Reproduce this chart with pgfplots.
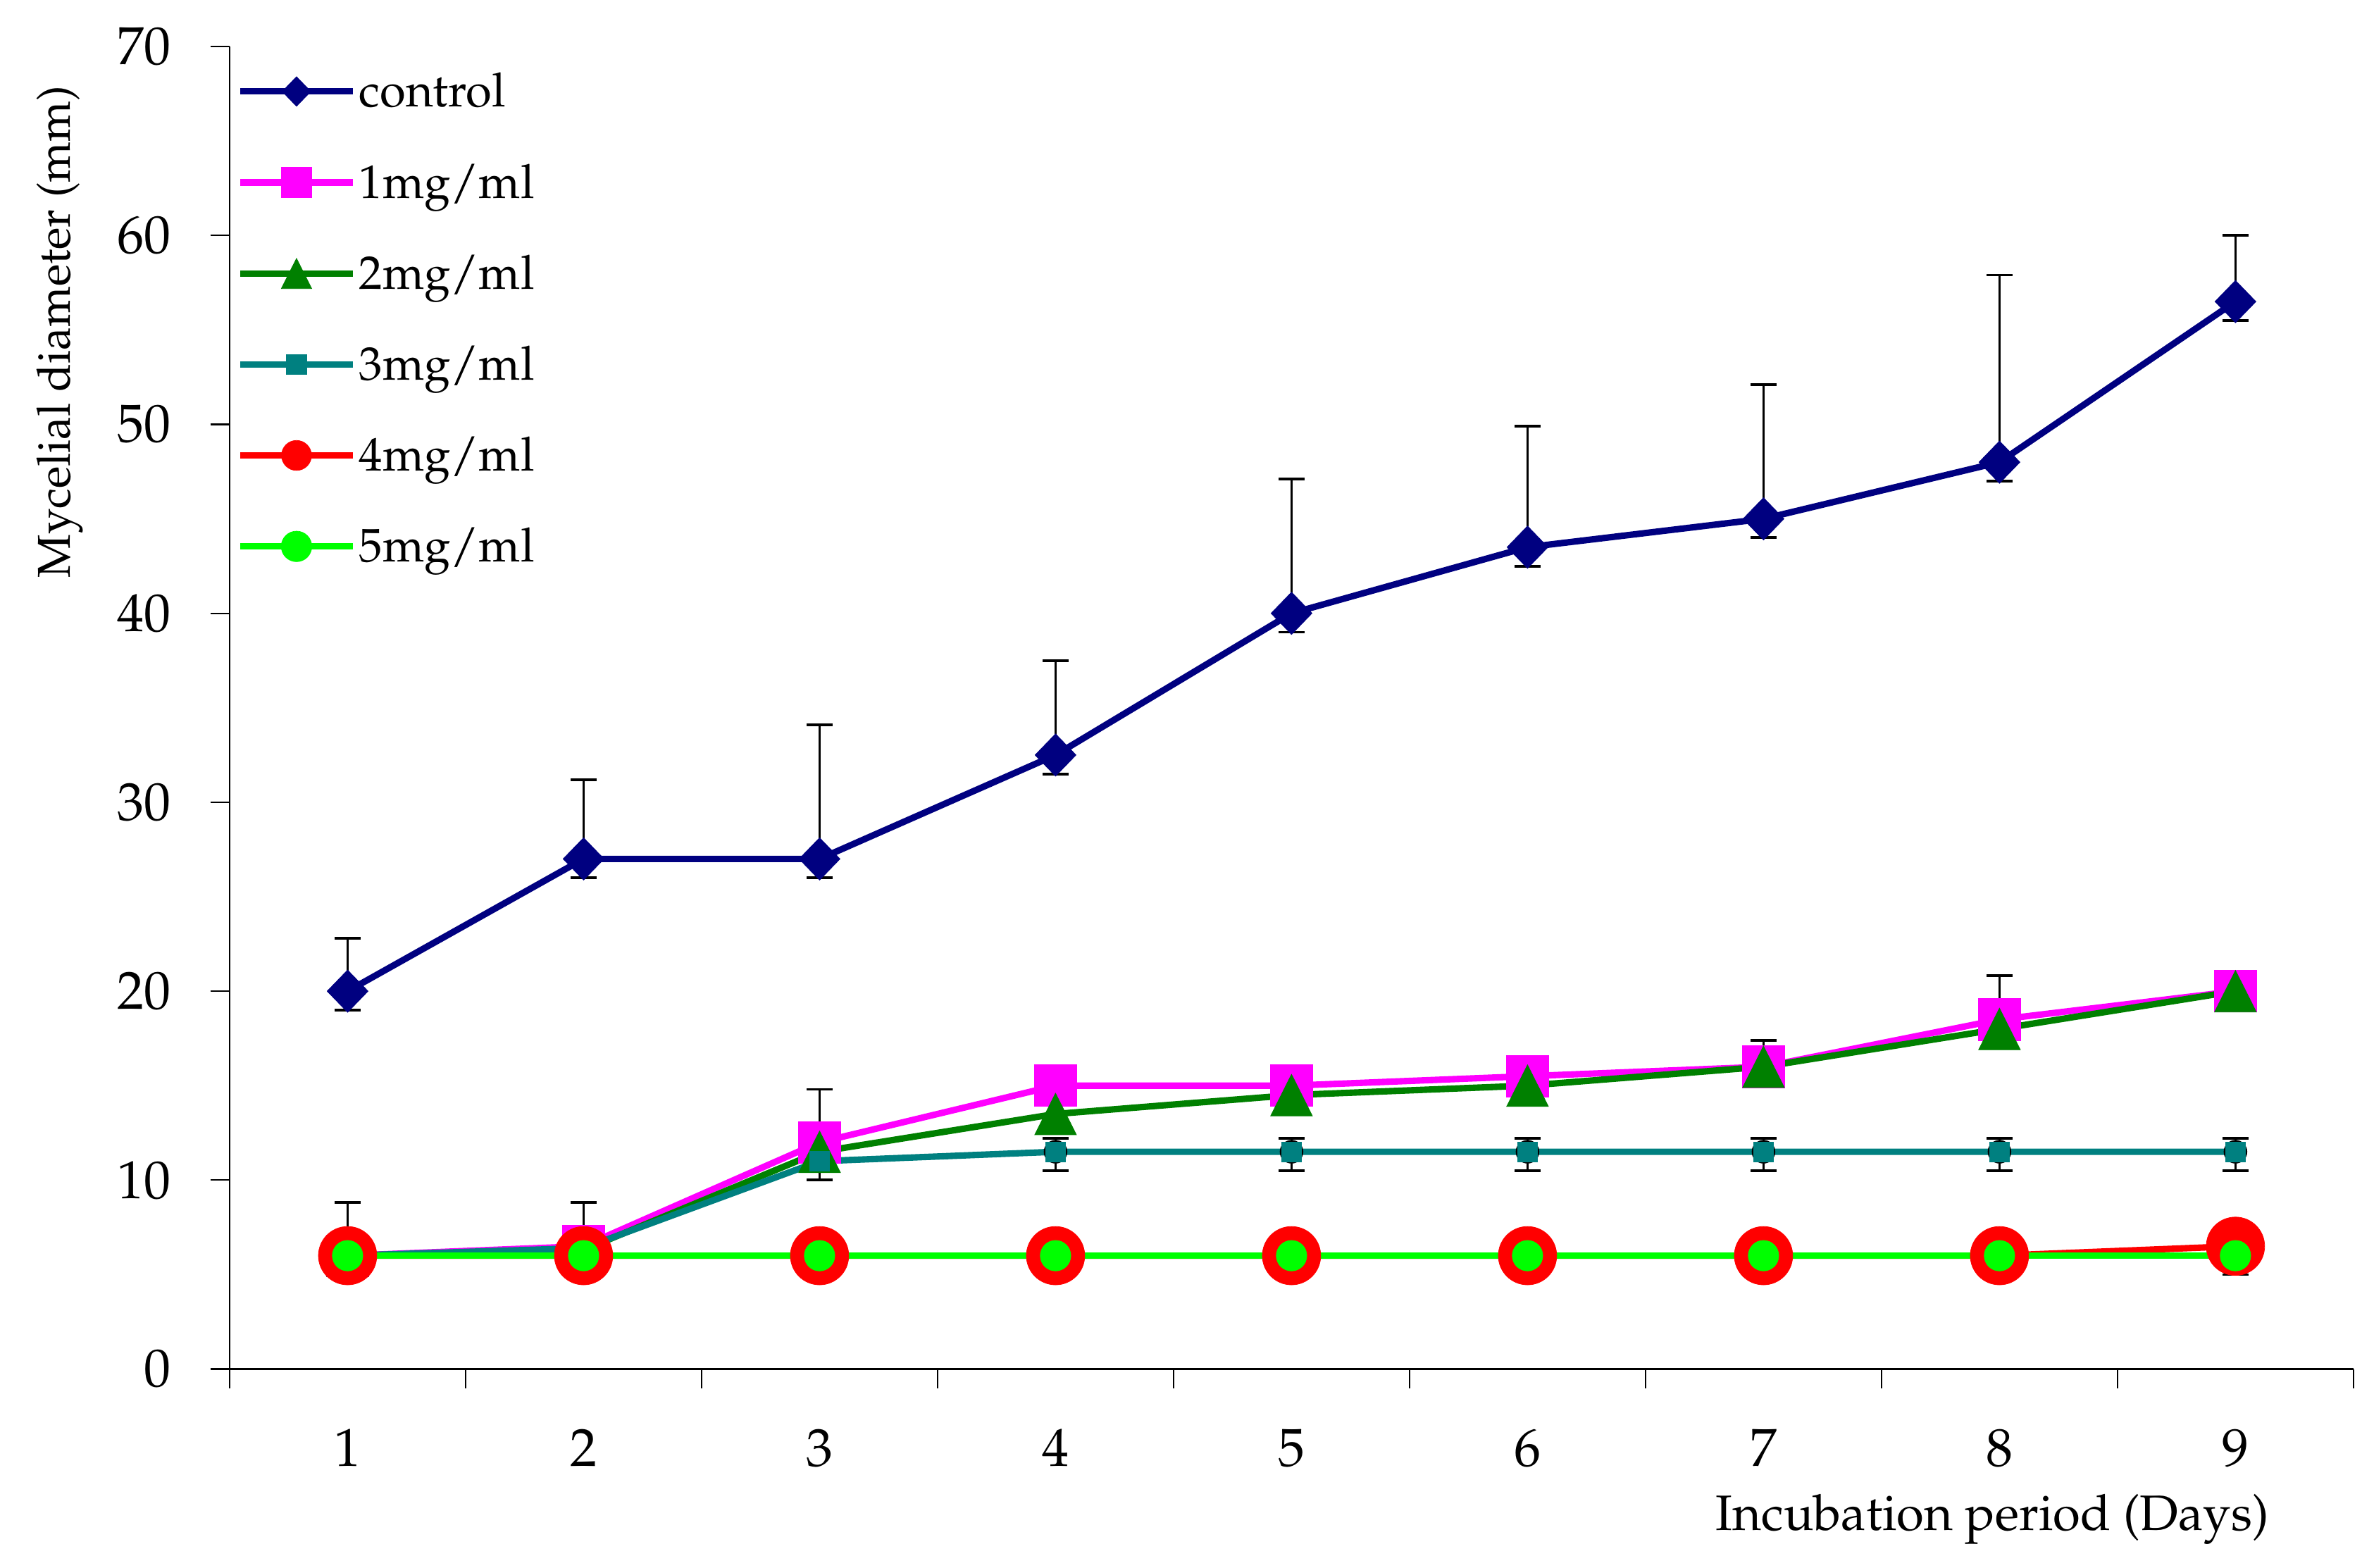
\documentclass[border=0pt]{standalone}
\usepackage[T1]{fontenc}
\usepackage{mathpazo}
\usepackage{pgfplots}
\pgfplotsset{compat=1.18}

\definecolor{cnavy}{RGB}{0,0,128}
\definecolor{cpink}{RGB}{255,0,255}
\definecolor{cgreen}{RGB}{0,128,0}
\definecolor{cteal}{RGB}{0,128,128}
\definecolor{cred}{RGB}{255,0,0}
\definecolor{clime}{RGB}{0,255,0}

\pgfplotsset{
  errbar/.style={black, line width=0.4pt, only marks, mark=none, forget plot,
    error bars/.cd, y dir=both, y explicit,
    error mark options={rotate=90, mark size=2.4pt, line width=0.5pt}},
}

\begin{document}
\begin{tikzpicture}
\begin{axis}[
    scale only axis,
    width=396.8pt, height=247.1pt,
    clip=false,
    xmin=0.5, xmax=9.5, ymin=0, ymax=70,
    axis x line=bottom, axis y line=left,
    axis line style={-},
    x axis line style={line width=0.45pt},
    y axis line style={line width=0.3pt},
    tick align=outside,
    major tick length=3.6pt,
    tick style={black, line width=0.3pt},
    xtick={0.5,1.5,...,9.5},
    xticklabels={},
    extra x ticks={1,2,3,4,5,6,7,8,9},
    extra x tick labels={1,2,3,4,5,6,7,8,9},
    extra x tick style={major tick length=0pt, xticklabel style={yshift=-7.7pt}},
    ytick={0,10,...,70},
    yticklabel style={xshift=-3.8pt},
    tick label style={font=\fontsize{10}{12}\selectfont},
    xlabel={Incubation period (Days)},
    ylabel={Mycelial diameter (mm)},
    xlabel style={at={(axis description cs:0.969,-0.1219)}, anchor=base east,
      font=\fontsize{9.3}{11}\selectfont},
    ylabel style={at={(axis description cs:-0.075,0.971)}, anchor=base east,
      inner sep=0pt, font=\fontsize{8.6}{10}\selectfont},
    legend cell align=left,
    legend style={draw=none, fill=none, at={(axis description cs:0,1)},
      anchor=north west, xshift=1.4pt, yshift=-3.3pt, inner sep=0pt, outer sep=0pt,
      row sep=6.8pt, column sep=0.6pt,
      nodes={inner sep=0pt, text height=8pt, text depth=2.2pt},
      font=\fontsize{8.8}{11}\selectfont},
    legend image code/.code={\draw[mark repeat=2,mark phase=2]
      plot coordinates {(0pt,0pt)(10.5pt,0pt)(21pt,0pt)};},
]

% error bars (drawn first, behind the markers)
\addplot[errbar] coordinates {
  (1,20) += (0,2.8) -= (0,1)
  (2,27) += (0,4.2) -= (0,1)
  (3,27) += (0,7.1) -= (0,1)
  (4,32.5) += (0,5.0) -= (0,1)
  (5,40) += (0,7.1) -= (0,1)
  (6,43.5) += (0,6.4) -= (0,1)
  (7,45) += (0,7.1) -= (0,1)
  (8,48) += (0,9.9) -= (0,1)
  (9,56.5) += (0,3.5) -= (0,1)
};
\addplot[errbar] coordinates {
  (1,6) += (0,2.83) -= (0,1)
  (2,6) += (0,2.83) -= (0,1)
  (3,11) += (0,3.8) -= (0,1)
  (4,11.5) += (0,0.7) -= (0,1)
  (5,11.5) += (0,0.7) -= (0,1)
  (6,11.5) += (0,0.7) -= (0,1)
  (7,11.5) += (0,0.7) -= (0,1)
  (8,11.5) += (0,0.7) -= (0,1)
  (9,11.5) += (0,0.7) -= (0,1)
};
\addplot[errbar] coordinates {
  (7,16) += (0,1.4) -= (0,1)
  (8,18.5) += (0,2.33) -= (0,1)
  (9,6.5) += (0,1) -= (0,1.5)
};

\addplot[cnavy, line width=1.2pt, mark=diamond*, mark size=3.95pt,
  mark options={solid, line width=0.1pt, xscale=1.29},
  legend image post style={mark size=2.76pt}]
  coordinates {(1,20)(2,27)(3,27)(4,32.5)(5,40)(6,43.5)(7,45)(8,48)(9,56.5)};
\addlegendentry{control}

\addplot[cpink, line width=1.2pt, mark=square*, mark size=3.9pt,
  mark options={solid, line width=0.1pt},
  legend image post style={mark size=2.8pt}]
  coordinates {(1,6)(2,6.5)(3,12)(4,15)(5,15)(6,15.5)(7,16)(8,18.5)(9,20)};
\addlegendentry{1mg/ml}

\addplot[cgreen, line width=1.2pt, mark=triangle*, mark size=4.5pt,
  mark options={solid, line width=0.1pt, yshift=-1.3pt, yscale=1.15},
  legend image post style={mark size=3.27pt, mark options={solid, line width=0.1pt, yshift=-0.94pt, yscale=1.15}}]
  coordinates {(1,6)(2,6.3)(3,11.5)(4,13.5)(5,14.5)(6,15)(7,16)(8,18)(9,20)};
\addlegendentry{2mg/ml}

\addplot[cteal, line width=1.2pt, mark=square*, mark size=1.85pt,
  mark options={solid, line width=0.1pt}]
  coordinates {(1,6)(2,6.4)(3,11)(4,11.5)(5,11.5)(6,11.5)(7,11.5)(8,11.5)(9,11.5)};
\addlegendentry{3mg/ml}

\addplot[cred, line width=1.2pt, mark=*, mark size=5.45pt,
  mark options={solid, line width=0.1pt},
  legend image post style={mark size=2.8pt}]
  coordinates {(1,6)(2,6)(3,6)(4,6)(5,6)(6,6)(7,6)(8,6)(9,6.5)};
\addlegendentry{4mg/ml}

\addplot[clime, line width=1.2pt, mark=*, mark size=2.85pt,
  mark options={solid, line width=0.1pt}]
  coordinates {(1,6)(2,6)(3,6)(4,6)(5,6)(6,6)(7,6)(8,6)(9,6)};
\addlegendentry{5mg/ml}

\coordinate (bb1) at (rel axis cs:0,0);
\coordinate (bb2) at (rel axis cs:1,1);
\end{axis}
\pgfresetboundingbox
\path[use as bounding box] ([shift={(-42.9pt,-37.1pt)}]bb1) rectangle ([shift={(1.6pt,8.7pt)}]bb2);
\end{tikzpicture}
\end{document}
